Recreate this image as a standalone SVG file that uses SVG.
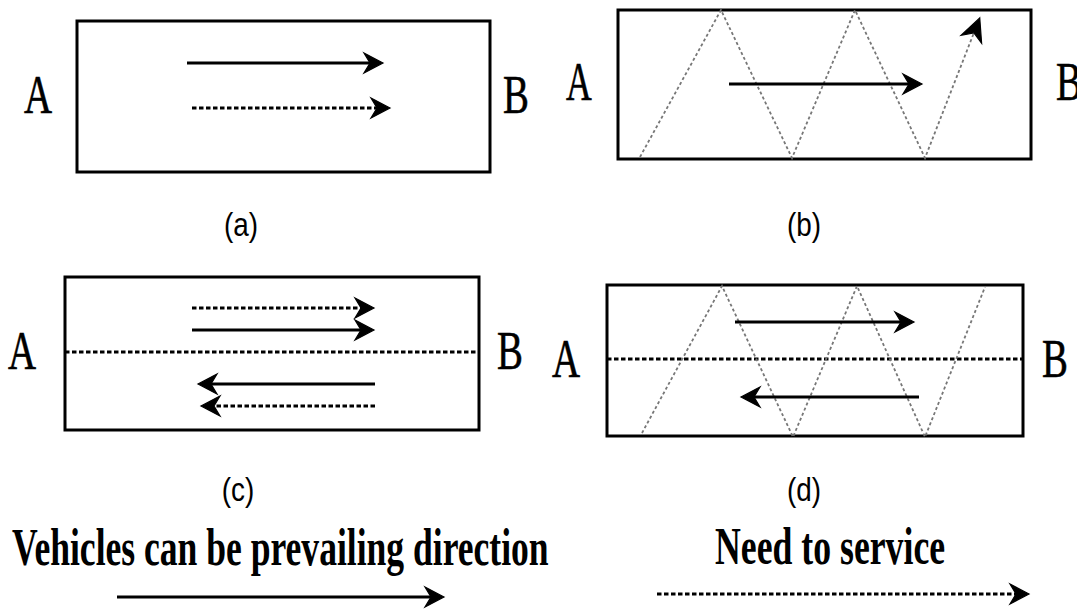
<svg xmlns="http://www.w3.org/2000/svg" width="1077" height="611" viewBox="0 0 1077 611">
<style>
.box{fill:#fff;stroke:#000;stroke-width:3}
.sol{stroke:#000;stroke-width:3;fill:none}
.dot{stroke:#000;stroke-width:3.2;stroke-dasharray:4.5 2.5;fill:none}
.mid{stroke:#000;stroke-width:3;stroke-dasharray:4.5 2.5;fill:none}
.zig{stroke:#777;stroke-width:1.8;stroke-dasharray:3 2.5;fill:none}
.ab{font-family:"Liberation Serif",serif;font-size:54px;fill:#000;stroke:#000;stroke-width:0.6}
.cap{font-family:"Liberation Sans",sans-serif;font-size:34px;fill:#000;text-anchor:middle}
.leg{font-family:"Liberation Serif",serif;font-weight:bold;font-size:52px;fill:#000}
.hd{fill:#000;stroke:#000;stroke-width:1.2;stroke-linejoin:miter}
</style>
<defs>
<marker id="ah" markerUnits="userSpaceOnUse" viewBox="0 0 24 28" markerWidth="24" markerHeight="28" refX="13" refY="14" orient="auto">
<path class="hd" d="M22,14 L3,4 L9,14 L3,24 Z"/>
</marker>
<marker id="ah2" markerUnits="userSpaceOnUse" viewBox="0 0 30 30" markerWidth="30" markerHeight="30" refX="14" refY="15" orient="auto">
<path class="hd" d="M27,15 L4,4 L11,15 L4,26 Z"/>
</marker>
</defs>
<rect width="1077" height="611" fill="#fff"/>

<g id="panel-a">
<rect class="box" x="77" y="21" width="413" height="151"/>
<text class="ab" transform="translate(24,113) scale(0.72,1)">A</text>
<text class="ab" transform="translate(503,113) scale(0.72,1)">B</text>
<text class="cap" transform="translate(241,236) scale(0.82,1)">(a)</text>
</g>

<g id="panel-b">
<rect class="box" x="618" y="10" width="413" height="149"/>
<text class="ab" transform="translate(566,100) scale(0.66,1)">A</text>
<text class="ab" transform="translate(1056,100) scale(0.72,1)">B</text>
<text class="cap" transform="translate(804,236) scale(0.82,1)">(b)</text>
</g>

<g id="panel-c">
<rect class="box" x="65" y="277" width="414" height="153"/>
<line class="mid" x1="65" y1="352" x2="479" y2="352"/>
<text class="ab" transform="translate(8,369) scale(0.72,1)">A</text>
<text class="ab" transform="translate(497,369) scale(0.72,1)">B</text>
<text class="cap" transform="translate(238,501) scale(0.82,1)">(c)</text>
</g>

<g id="panel-d">
<rect class="box" x="607" y="285" width="416" height="151"/>
<line class="mid" x1="607" y1="359" x2="1023" y2="359"/>
<text class="ab" transform="translate(552,377) scale(0.72,1)">A</text>
<text class="ab" transform="translate(1042,377) scale(0.72,1)">B</text>
<text class="cap" transform="translate(804,501) scale(0.82,1)">(d)</text>
</g>

<g id="legend">
<text class="leg" transform="translate(12,565) scale(0.684,1)">Vehicles can be prevailing direction</text>
<text class="leg" transform="translate(715,564) scale(0.687,1)">Need to service</text>
</g>

<g id="connectors">
<line class="sol" x1="187" y1="63" x2="374" y2="63" marker-end="url(#ah)"/>
<line class="dot" x1="192" y1="108" x2="381" y2="108" marker-end="url(#ah)"/>

<polyline class="zig" points="640,157 721,10 792,158 855,10 925,158 975,30" marker-end="url(#ah2)"/>
<line class="sol" x1="729" y1="84" x2="913" y2="84" marker-end="url(#ah)"/>

<line class="dot" x1="192" y1="308" x2="365" y2="308" marker-end="url(#ah)"/>
<line class="sol" x1="192" y1="330" x2="365" y2="330" marker-end="url(#ah)"/>
<line class="sol" x1="375" y1="384" x2="207" y2="384" marker-end="url(#ah)"/>
<line class="dot" x1="375" y1="406" x2="210" y2="406" marker-end="url(#ah)"/>

<polyline class="zig" points="642,433 722,286 793,437 857,286 925,437 985,287"/>
<line class="sol" x1="735" y1="322" x2="905" y2="322" marker-end="url(#ah)"/>
<line class="sol" x1="919" y1="397" x2="750" y2="397" marker-end="url(#ah)"/>

<line class="sol" x1="117" y1="597" x2="435" y2="597" marker-end="url(#ah)"/>
<line class="dot" x1="657" y1="594" x2="1020" y2="594" marker-end="url(#ah)"/>
</g>
</svg>
